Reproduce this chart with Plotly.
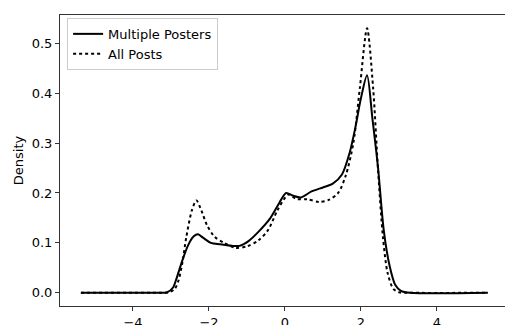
import plotly.graph_objects as go

# Multiple Posters (solid)
mp_x = [-5.37, -3.5, -3.1, -2.95, -2.84, -2.7, -2.55, -2.4, -2.29, -2.15, -1.95, -1.7, -1.4, -1.2,
        -0.95, -0.7, -0.4, -0.15, 0.03, 0.2, 0.42, 0.7, 1.0, 1.25, 1.5, 1.7, 1.85, 2.0, 2.16, 2.3,
        2.45, 2.6, 2.75, 2.9, 3.05, 3.3, 5.34]
mp_y = [0, 0, 0.001, 0.01, 0.032, 0.065, 0.095, 0.113, 0.117, 0.11, 0.1, 0.097, 0.094, 0.094,
        0.104, 0.122, 0.148, 0.18, 0.2, 0.195, 0.191, 0.203, 0.211, 0.218, 0.237, 0.28, 0.33, 0.39,
        0.436, 0.35, 0.25, 0.125, 0.055, 0.016, 0.004, 0, 0]

# All Posts (dotted)
ap_x = [-5.37, -3.5, -3.05, -2.9, -2.8, -2.7, -2.6, -2.45, -2.33, -2.2, -2.05, -1.85, -1.6, -1.3,
        -1.0, -0.7, -0.45, -0.2, 0.0, 0.1, 0.3, 0.6, 0.9, 1.15, 1.4, 1.6, 1.8, 1.97, 2.16, 2.32,
        2.45, 2.58, 2.7, 2.85, 3.0, 3.3, 5.34]
ap_y = [0, 0, 0.001, 0.008, 0.025, 0.06, 0.11, 0.165, 0.185, 0.165, 0.135, 0.112, 0.1, 0.09,
        0.093, 0.105, 0.125, 0.165, 0.19, 0.197, 0.188, 0.187, 0.182, 0.186, 0.2, 0.235, 0.3, 0.41,
        0.53, 0.41, 0.245, 0.11, 0.04, 0.008, 0.001, 0, 0]

x_ticks = [-4, -2, 0, 2, 4]
y_ticks = [0.0, 0.1, 0.2, 0.3, 0.4, 0.5]

fig = go.Figure()
fig.add_trace(go.Scatter(x=mp_x, y=mp_y, mode="lines", name="Multiple Posters",
                         line=dict(color="black", width=2, shape="spline", smoothing=0.8)))
fig.add_trace(go.Scatter(x=ap_x, y=ap_y, mode="lines", name="All Posts",
                         line=dict(color="black", width=2, dash="dot", shape="spline", smoothing=0.8)))

fig.update_layout(
    width=505, height=325,
    margin=dict(l=60, r=0, t=15, b=19),
    paper_bgcolor="white", plot_bgcolor="white",
    font=dict(family="DejaVu Sans", size=13, color="black"),
    showlegend=True,
    legend=dict(x=0.016, y=0.99, xanchor="left", yanchor="top",
                bgcolor="rgba(255,255,255,0.8)", bordercolor="#cccccc", borderwidth=1,
                font=dict(size=13), tracegroupgap=0, itemwidth=30),
    xaxis=dict(range=[-5.92, 5.79], tickvals=x_ticks, showgrid=False, zeroline=False,
               showline=True, linecolor="#333333", linewidth=1, mirror=True,
               ticks="outside", ticklen=4, tickcolor="#333333", automargin=False,
               tickfont=dict(size=13)),
    yaxis=dict(range=[-0.0265, 0.5565], tickvals=y_ticks, tickformat=".1f", showgrid=False,
               zeroline=False, showline=True, linecolor="#333333", linewidth=1,
               ticks="outside", ticklen=4, tickcolor="#333333", automargin=False,
               tickfont=dict(size=13),
               title=dict(text="Density", standoff=5, font=dict(size=13))),
)

fig.write_html("out.html", config={"displayModeBar": False},
               post_script="document.body.style.margin='0';document.body.style.overflow='hidden';")
